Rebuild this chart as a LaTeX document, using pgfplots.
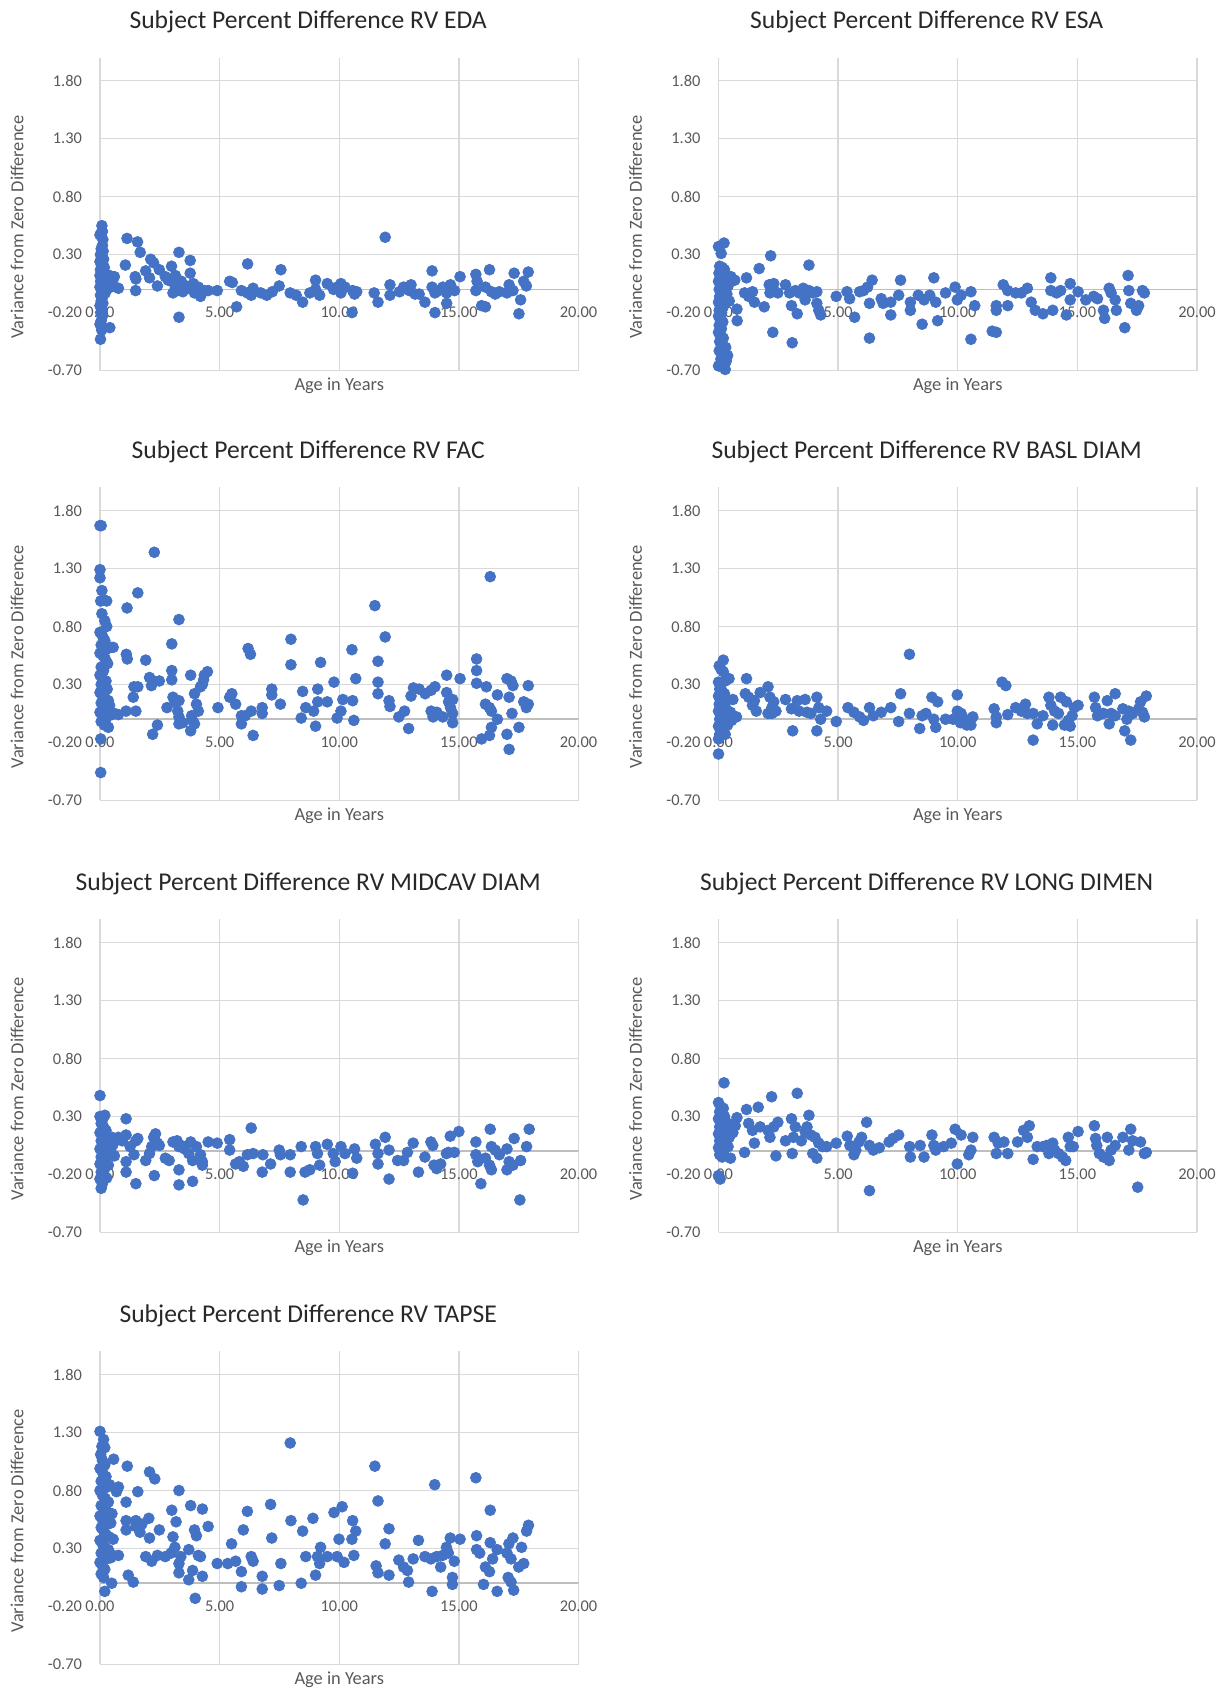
\documentclass[border=0pt]{standalone}
\usepackage{fontspec}
\setmainfont{Carlito}
\usepackage{pgfplots}
\pgfplotsset{compat=1.18}

\definecolor{dotblue}{RGB}{68,114,196}
\definecolor{gridgray}{RGB}{217,217,217}
\definecolor{zerogray}{RGB}{190,190,190}
\definecolor{ticktext}{RGB}{89,89,89}
\definecolor{titletext}{RGB}{40,40,40}

\tikzset{zeroline/.style={draw=zerogray, line width=0.9pt}}

% one panel of the 7 scatter charts (same scales everywhere)
\pgfplotsset{
  rvpanel/.style={
    scale only axis, width=239.25pt, height=156.5pt,
    xmin=0, xmax=20, ymin=-0.7, ymax=2.0,
    xtick={0,5,10,15,20}, ytick={-0.7,0.3,0.8,1.3,1.8},
    extra y ticks={-0.2}, extra y tick style={grid=none},
    axis line style={draw=none},
    major tick length=0pt,
    grid=major, major grid style={draw=gridgray, line width=0.7pt},
    /pgf/number format/fixed, /pgf/number format/fixed zerofill,
    /pgf/number format/precision=2, /pgf/number format/assume math mode=true,
    tick label style={font=\fontsize{8.2}{9.6}\selectfont, text=ticktext},
    yticklabel style={anchor=east, xshift=-5.5pt},
    xticklabel style={anchor=center, yshift=29pt},
    title style={at={(axis description cs:0.435,1.076)}, anchor=center, yshift=0pt,
      font=\fontsize{12.8}{14}\selectfont, text=titletext, inner sep=1pt},
    xlabel={Age in Years},
    xlabel style={at={(axis description cs:0.5,-0.048)}, anchor=center,
      font=\fontsize{9.2}{11}\selectfont, text=ticktext, inner sep=1pt},
    ylabel={Variance from Zero Difference},
    ylabel style={at={(axis description cs:-0.1735,0.459)}, anchor=center,
      font=\fontsize{9.2}{11}\selectfont, text=ticktext, inner sep=1pt},
    every axis plot post/.append style={only marks, mark=*, mark size=2.7pt,
      color=dotblue, mark options={draw=dotblue, fill=dotblue}},
  },
}

\begin{document}
\begin{tikzpicture}

% ---------------- RV EDA
\begin{axis}[rvpanel, at={(50pt,659.2pt)}, anchor=south west,
  title={Subject Percent Difference RV EDA}]
\draw[zeroline] (axis cs:0,0) -- (axis cs:20,0);
\addplot coordinates {
(0.00,0.47) (0.03,0.48) (0.08,0.55) (0.10,0.50) (0.12,0.43) (0.10,0.38) (0.05,0.35)
(0.13,0.33) (0.02,0.30) (0.08,0.28) (0.15,0.26) (0.00,0.24) (0.05,0.22) (0.12,0.20)
(0.18,0.19) (0.02,0.17) (0.09,0.15) (0.20,0.14) (0.00,0.12) (0.06,0.11) (0.14,0.10)
(0.25,0.09) (0.30,0.12) (0.03,0.07) (0.10,0.05) (0.18,0.04) (0.00,0.02) (0.07,0.00)
(0.15,-0.01) (0.22,-0.03) (0.02,-0.05) (0.10,-0.07) (0.05,-0.10) (0.12,-0.12)
(0.00,-0.14) (0.08,-0.17) (0.03,-0.20) (0.10,-0.23) (0.05,-0.27) (0.00,-0.30)
(0.07,-0.35) (0.02,-0.43) (0.41,-0.33) (0.40,0.12) (0.50,0.08) (0.60,0.11) (0.35,0.05)
(0.45,0.02) (0.55,0.04)
(1.13,0.44) (1.57,0.41) (1.68,0.32) (1.06,0.21) (1.47,0.11) (1.50,0.09) (1.49,-0.01)
(0.77,0.01) (1.91,0.16) (2.12,0.26) (2.24,0.23) (2.07,0.10) (2.40,0.03) (2.48,0.17)
(2.73,0.11) (2.99,0.20) (3.30,0.32) (3.77,0.25) (3.77,0.14) (3.30,-0.24)
(3.05,-0.03) (3.22,-0.01) (3.46,-0.02) (3.71,0.01) (3.95,-0.03) (4.11,0.02) (4.20,-0.06)
(4.36,-0.01) (4.52,-0.01) (4.90,-0.01) (3.10,0.05) (3.40,0.07) (3.60,0.03) (3.90,0.05)
(4.00,0.00) (2.85,0.08) (3.15,0.12)
(5.71,-0.15) (5.42,0.07) (5.53,0.06) (5.91,-0.01) (6.16,-0.03) (6.40,0.01) (6.32,-0.05)
(6.17,0.22) (6.72,-0.03) (6.97,-0.05) (7.20,-0.02) (7.49,0.03) (7.56,0.17) (7.95,-0.03)
(8.20,-0.05) (8.47,-0.11) (8.77,-0.03) (9.01,0.00) (9.01,0.08) (9.18,-0.05) (9.50,0.05)
(9.76,0.00) (9.91,0.02) (10.07,0.05) (10.07,-0.03) (10.24,0.02) (10.56,-0.01)
(10.64,-0.04) (10.73,-0.02) (10.53,-0.20) (11.46,-0.03) (11.62,-0.11) (11.92,0.45)
(12.12,0.04) (12.12,-0.05) (12.52,-0.02) (12.69,0.02) (12.93,-0.01) (13.00,0.04)
(13.17,-0.04) (13.34,-0.04) (13.58,-0.11) (13.88,0.16) (13.88,0.02) (14.00,-0.03)
(14.00,-0.20) (14.16,-0.01) (14.33,0.02) (14.49,-0.03) (14.65,0.04) (14.49,-0.12)
(14.82,-0.01) (15.05,0.11) (15.71,0.13) (15.76,0.07) (15.71,-0.01) (15.95,-0.14)
(16.11,-0.15) (16.28,0.17) (16.11,0.02) (16.36,-0.02) (16.52,-0.04) (16.69,-0.02)
(17.01,-0.03) (17.10,0.04) (17.26,-0.01) (17.31,0.14) (17.58,-0.09) (17.51,-0.21)
(17.71,0.07) (17.82,0.03) (17.90,0.15)
};
\end{axis}

% ---------------- RV ESA
\begin{axis}[rvpanel, at={(359.25pt,659.2pt)}, anchor=south west,
  title={Subject Percent Difference RV ESA}]
\draw[zeroline] (axis cs:0,0) -- (axis cs:20,0);
\addplot coordinates {
(0.00,0.37) (0.23,0.40) (0.11,0.31) (0.05,0.20) (0.15,0.19) (0.25,0.17) (0.02,0.14)
(0.10,0.12) (0.20,0.10) (0.30,0.08) (0.00,0.07) (0.08,0.05) (0.18,0.03) (0.28,0.02)
(0.03,0.00) (0.12,-0.02) (0.22,-0.03) (0.35,-0.04) (0.05,-0.06) (0.15,-0.08) (0.25,-0.09)
(0.00,-0.11) (0.10,-0.13) (0.20,-0.15) (0.03,-0.18) (0.13,-0.20) (0.00,-0.23) (0.08,-0.26)
(0.18,-0.28) (0.03,-0.31) (0.12,-0.34) (0.00,-0.37) (0.08,-0.40) (0.20,-0.42) (0.05,-0.45)
(0.15,-0.48) (0.30,-0.50) (0.03,-0.53) (0.22,-0.56) (0.38,-0.57) (0.10,-0.60) (0.32,-0.62)
(0.00,-0.66) (0.18,-0.67) (0.28,-0.69) (0.40,0.03) (0.48,0.10) (0.45,-0.10)
(0.52,0.11) (0.68,0.08) (0.77,-0.17) (0.78,-0.27) (1.17,0.10) (1.09,-0.03) (1.26,-0.06)
(1.42,-0.02) (1.50,-0.11) (1.70,0.18) (1.91,-0.15) (2.18,0.29) (2.12,0.04) (2.31,0.05)
(2.15,-0.03) (2.48,-0.03) (2.27,-0.37) (2.80,0.04) (2.97,-0.03) (3.05,-0.14) (3.21,-0.01)
(3.29,-0.21) (3.37,-0.03) (3.54,0.01) (3.62,-0.09) (3.78,-0.01) (3.94,-0.03) (4.11,-0.02)
(3.08,-0.46) (3.78,0.21) (4.11,-0.12) (4.19,-0.18) (4.27,-0.22) (4.92,-0.06) (5.37,-0.02)
(5.48,-0.08) (5.69,-0.24) (5.90,-0.02) (6.06,-0.01) (6.23,0.02) (6.42,0.08) (6.31,-0.12)
(6.31,-0.42) (6.80,-0.08) (6.88,-0.12) (7.20,-0.11) (7.20,-0.22) (7.53,-0.05) (7.61,0.08)
(8.02,-0.11) (8.02,-0.18) (8.35,-0.05) (8.51,-0.30) (8.59,-0.09) (8.83,-0.05) (9.00,0.10)
(9.08,-0.11) (9.16,-0.27) (9.49,-0.03) (9.89,0.02) (9.98,-0.09) (10.14,-0.05)
(10.55,-0.02) (10.55,-0.43) (10.71,-0.14) (11.44,-0.36) (11.61,-0.37) (11.61,-0.14)
(11.61,-0.18) (12.09,-0.14) (11.90,0.04) (12.09,-0.01) (12.42,-0.03) (12.66,-0.03)
(12.91,0.01) (13.07,-0.11) (13.24,-0.18) (13.56,-0.21) (13.89,0.10) (13.89,-0.01)
(13.97,-0.18) (14.13,-0.03) (14.30,-0.01) (14.54,-0.22) (14.70,0.05) (14.70,-0.09)
(15.03,-0.02) (15.35,-0.09) (15.68,-0.06) (15.84,-0.08) (16.09,-0.18) (16.14,-0.25)
(16.33,0.01) (16.41,-0.03) (16.58,-0.09) (16.63,-0.18) (16.98,-0.33) (17.12,0.12)
(17.15,-0.01) (17.23,-0.12) (17.47,-0.18) (17.56,-0.14) (17.72,-0.01) (17.80,-0.03)
};
\end{axis}

% ---------------- RV FAC
\begin{axis}[rvpanel, at={(50pt,444.3pt)}, anchor=south west,
  title={Subject Percent Difference RV FAC}]
\draw[zeroline] (axis cs:0,0) -- (axis cs:20,0);
\addplot coordinates {
(0.00,1.67) (0.05,1.67) (0.00,1.29) (0.00,1.22) (0.08,1.11) (0.15,1.03) (0.03,1.02)
(0.28,1.02) (0.08,0.91) (0.20,0.85) (0.28,0.80) (0.00,0.75) (0.10,0.72) (0.20,0.68)
(0.05,0.64) (0.15,0.62) (0.25,0.60) (0.35,0.62) (0.45,0.62) (0.55,0.62) (0.00,0.57)
(0.12,0.55) (0.22,0.52) (0.32,0.48) (0.05,0.45) (0.15,0.42) (0.00,0.38) (0.10,0.35)
(0.25,0.33) (0.05,0.30) (0.18,0.28) (0.30,0.26) (0.00,0.23) (0.10,0.20) (0.22,0.18)
(0.35,0.16) (0.05,0.14) (0.15,0.10) (0.28,0.08) (0.00,0.06) (0.12,0.03) (0.25,0.00)
(0.05,-0.02) (0.18,-0.05) (0.35,-0.07) (0.40,0.12) (0.50,0.04) (0.60,0.05) (0.03,-0.17)
(0.03,-0.46)
(1.13,0.96) (1.58,1.09) (2.27,1.44) (1.10,0.56) (1.14,0.52) (1.91,0.51) (1.42,0.28)
(1.58,0.28) (1.39,0.19) (1.09,0.07) (1.50,0.07) (0.77,0.04) (2.07,0.36) (2.15,0.29)
(2.24,0.33) (2.48,0.33) (2.20,-0.13) (2.40,-0.05) (3.00,0.65) (3.30,0.86) (3.00,0.42)
(3.00,0.34) (3.05,0.19) (3.13,0.15) (3.30,0.16) (3.25,0.07) (3.30,0.02) (3.30,-0.04)
(3.46,-0.03) (2.80,0.10) (3.79,0.38) (3.83,0.03) (3.87,-0.01) (3.79,-0.10) (3.95,-0.04)
(3.95,0.22) (4.03,0.13) (4.11,0.07) (4.20,0.28) (4.28,0.30) (4.33,0.34) (4.36,0.38)
(4.49,0.41) (4.93,0.10) (5.42,0.19) (5.51,0.22) (5.67,0.13) (5.91,0.03) (5.91,-0.04)
(6.07,0.03) (6.19,0.61) (6.29,0.56) (6.40,-0.14) (6.32,0.07) (6.78,0.10) (6.78,0.05)
(7.18,0.26) (7.18,0.21) (7.54,0.13) (7.98,0.69) (7.98,0.47) (8.41,0.01) (8.47,0.24)
(8.60,0.10) (8.93,0.07) (9.01,-0.06) (9.10,0.26) (9.10,0.15) (9.22,0.49) (9.50,0.15)
(9.78,0.32) (9.91,0.01) (10.07,0.07) (10.15,0.17) (10.53,0.60) (10.56,0.16) (10.61,-0.01)
(10.69,0.35) (11.49,0.98) (11.62,0.50) (11.62,0.32) (11.62,0.22) (11.92,0.71) (12.08,0.16)
(12.12,0.11) (12.49,0.02) (12.73,0.07) (12.90,-0.08) (13.00,0.20) (13.10,0.27)
(13.34,0.26) (13.59,0.22) (13.84,0.25) (14.00,0.28) (13.84,0.07) (13.92,0.02) (14.08,0.06)
(14.33,0.02) (14.49,0.38) (14.49,0.23) (14.57,0.15) (14.65,0.10) (14.74,0.17) (14.74,0.05)
(14.74,-0.03) (15.05,0.35) (15.74,0.52) (15.74,0.42) (15.74,0.31) (15.95,-0.17)
(16.15,0.28) (16.11,0.13) (16.28,0.10) (16.36,0.07) (16.31,1.23) (16.28,-0.14)
(16.36,-0.07) (16.61,0.00) (16.61,0.21) (17.01,0.35) (17.18,0.33) (17.26,0.29)
(17.01,-0.13) (17.10,-0.26) (17.10,0.19) (17.22,0.05) (17.51,-0.07) (17.71,0.15)
(17.82,0.10) (17.90,0.13) (17.90,0.29)
};
\end{axis}

% ---------------- RV BASL DIAM
\begin{axis}[rvpanel, at={(359.25pt,444.3pt)}, anchor=south west,
  title={Subject Percent Difference RV BASL DIAM}]
\draw[zeroline] (axis cs:0,0) -- (axis cs:20,0);
\addplot coordinates {
(0.20,0.51) (0.03,0.46) (0.11,0.43) (0.20,0.41) (0.28,0.33) (0.44,0.35) (0.00,0.32)
(0.10,0.30) (0.05,0.26) (0.15,0.24) (0.25,0.22) (0.00,0.20) (0.08,0.18) (0.18,0.16)
(0.30,0.15) (0.03,0.13) (0.12,0.11) (0.22,0.10) (0.35,0.08) (0.00,0.07) (0.10,0.05)
(0.20,0.03) (0.30,0.02) (0.05,0.00) (0.15,-0.02) (0.28,-0.03) (0.45,0.02) (0.50,0.06)
(0.38,-0.05) (0.00,-0.06) (0.10,-0.09) (0.05,-0.13) (0.28,-0.13) (0.00,-0.17) (0.00,-0.30)
(0.60,0.17) (0.55,-0.01) (0.75,0.02)
(1.17,0.35) (1.12,0.22) (1.26,0.19) (1.42,0.12) (1.50,0.16) (1.58,0.07) (1.74,0.23)
(2.07,0.28) (2.15,0.19) (2.23,0.10) (2.31,0.15) (2.40,0.07) (2.23,0.05) (2.07,0.05)
(2.80,0.17) (3.05,0.09) (3.10,-0.10) (3.29,0.16) (3.37,0.07) (3.62,0.17) (3.70,0.06)
(3.86,0.05) (4.11,0.19) (4.11,-0.10) (4.19,0.10) (4.27,0.00) (4.52,0.07) (4.92,-0.02)
(5.41,0.10) (5.66,0.06) (5.90,0.02) (6.06,-0.01) (6.31,0.10) (6.47,0.03) (6.80,0.06)
(7.20,0.10) (7.53,-0.02) (7.61,0.22) (7.98,0.56) (7.98,0.05) (8.41,-0.08) (8.51,0.03)
(8.67,0.05) (8.92,0.19) (9.00,0.00) (9.08,-0.07) (9.16,0.15) (9.49,0.00) (9.81,0.00)
(9.98,0.07) (9.98,0.21) (10.11,-0.03) (10.14,0.05) (10.30,0.00) (10.38,-0.05)
(10.55,-0.05) (10.63,0.02) (11.52,0.09) (11.61,0.02) (11.61,-0.03) (11.85,0.32)
(12.01,0.29) (12.09,0.04) (12.42,0.10) (12.66,0.07) (12.83,0.13) (12.91,0.05)
(13.15,0.05) (13.32,-0.04) (13.15,-0.18) (13.56,0.03) (13.81,0.19) (13.89,0.12)
(13.97,-0.05) (14.05,0.07) (14.21,0.05) (14.30,0.19) (14.46,-0.05) (14.54,0.15)
(14.62,-0.01) (14.70,-0.06) (14.78,0.03) (14.87,0.10) (15.03,0.12) (15.71,0.19)
(15.76,0.10) (15.84,0.03) (16.09,0.05) (16.25,0.16) (16.33,-0.04) (16.41,0.05)
(16.58,0.22) (16.58,0.03) (16.90,0.09) (16.98,-0.10) (17.07,0.00) (17.15,0.07)
(17.23,-0.18) (17.31,0.05) (17.56,0.09) (17.64,0.15) (17.72,0.06) (17.80,0.02) (17.88,0.20)
};
\end{axis}

% ---------------- RV MIDCAV DIAM
\begin{axis}[rvpanel, at={(50pt,228.3pt)}, anchor=south west,
  title={Subject Percent Difference RV MIDCAV DIAM}]
\draw[zeroline] (axis cs:0,0) -- (axis cs:20,0);
\addplot coordinates {
(0.00,0.48) (0.00,0.30) (0.20,0.31) (0.10,0.27) (0.05,0.24) (0.15,0.21) (0.25,0.18)
(0.00,0.16) (0.10,0.14) (0.20,0.12) (0.30,0.13) (0.40,0.10) (0.05,0.09) (0.15,0.07)
(0.25,0.05) (0.35,0.04) (0.00,0.02) (0.10,0.00) (0.20,-0.02) (0.30,-0.01) (0.45,0.02)
(0.05,-0.05) (0.15,-0.07) (0.25,-0.09) (0.00,-0.11) (0.10,-0.13) (0.20,-0.15) (0.35,-0.12)
(0.05,-0.18) (0.15,-0.21) (0.28,-0.23) (0.00,-0.24) (0.10,-0.28) (0.05,-0.32) (0.55,0.06)
(0.60,-0.04) (0.50,0.12)
(1.09,0.28) (0.77,0.12) (0.93,0.09) (1.09,0.14) (1.26,0.04) (1.50,0.09) (1.58,0.11)
(1.42,-0.03) (1.09,-0.09) (1.09,-0.18) (1.50,-0.28) (1.91,-0.08) (2.07,-0.02) (2.16,0.04)
(2.24,0.12) (2.32,0.15) (2.40,0.07) (2.48,0.05) (2.27,-0.21) (2.73,-0.06) (2.89,-0.08)
(3.05,0.08) (3.22,0.09) (3.30,0.04) (3.30,-0.16) (3.30,-0.29) (3.38,0.05) (3.54,0.02)
(3.71,-0.02) (3.79,0.08) (3.87,-0.08) (3.87,-0.26) (4.03,0.04) (4.20,-0.03) (4.28,-0.09)
(4.28,-0.12) (4.52,0.08) (4.90,0.07) (5.42,0.10) (5.42,0.01) (5.67,-0.11) (5.83,-0.09)
(5.99,-0.13) (6.16,-0.03) (6.32,0.20) (6.40,-0.02) (6.78,-0.18) (6.81,-0.03) (7.13,-0.11)
(7.49,0.01) (7.54,-0.03) (7.95,-0.03) (7.95,-0.18) (8.41,0.04) (8.49,-0.42) (8.57,-0.18)
(8.77,-0.16) (9.01,0.04) (9.09,-0.02) (9.18,-0.12) (9.50,0.06) (9.75,-0.02) (9.83,-0.09)
(10.07,0.04) (10.24,-0.02) (10.56,-0.19) (10.64,0.02) (10.73,-0.06) (11.51,0.06)
(11.62,-0.02) (11.62,-0.11) (11.92,0.12) (12.08,0.01) (12.08,-0.24) (12.44,-0.08)
(12.69,-0.08) (12.85,-0.01) (13.09,0.07) (13.31,-0.18) (13.58,-0.05) (13.83,0.08)
(13.91,0.05) (13.96,-0.12) (14.07,-0.15) (14.24,-0.11) (14.48,-0.02) (14.56,-0.01)
(14.64,0.13) (14.81,-0.01) (15.00,0.17) (15.71,0.08) (15.71,-0.03) (15.79,-0.09)
(15.92,-0.28) (16.11,-0.06) (16.28,-0.12) (16.31,0.19) (16.36,-0.16) (16.36,0.04)
(16.52,0.01) (16.69,-0.03) (17.01,0.02) (17.01,-0.16) (17.10,-0.09) (17.26,-0.12)
(17.31,0.11) (17.58,-0.08) (17.55,-0.42) (17.83,0.04) (17.94,0.19)
};
\end{axis}

% ---------------- RV LONG DIMEN
\begin{axis}[rvpanel, at={(359.25pt,228.3pt)}, anchor=south west,
  title={Subject Percent Difference RV LONG DIMEN}]
\draw[zeroline] (axis cs:0,0) -- (axis cs:20,0);
\addplot coordinates {
(0.23,0.59) (0.00,0.42) (0.11,0.38) (0.20,0.37) (0.05,0.34) (0.15,0.32) (0.25,0.30)
(0.00,0.28) (0.10,0.26) (0.20,0.25) (0.30,0.23) (0.40,0.24) (0.05,0.21) (0.15,0.19)
(0.25,0.18) (0.35,0.17) (0.50,0.20) (0.00,0.15) (0.10,0.13) (0.20,0.12) (0.30,0.11)
(0.45,0.12) (0.05,0.09) (0.15,0.07) (0.25,0.05) (0.40,0.04) (0.00,0.03) (0.10,0.01)
(0.20,-0.01) (0.05,-0.03) (0.15,-0.05) (0.50,-0.06) (0.00,-0.21) (0.07,-0.24) (0.60,0.16)
(0.70,0.22)
(0.77,0.29) (1.09,-0.01) (1.17,0.36) (1.26,0.24) (1.42,0.18) (1.50,0.07) (1.66,0.38)
(1.74,0.21) (2.22,0.47) (2.07,0.18) (2.15,0.12) (2.31,0.21) (2.40,-0.04) (2.48,0.25)
(2.80,0.09) (3.05,0.28) (3.08,-0.02) (3.13,0.12) (3.21,0.21) (3.29,0.50) (3.46,0.09)
(3.62,0.17) (3.70,0.21) (3.78,0.31) (3.86,0.14) (3.94,-0.02) (4.03,0.12) (4.11,-0.06)
(4.19,0.07) (4.35,0.04) (4.52,0.04) (4.92,0.07) (5.38,0.13) (5.49,0.05) (5.66,-0.03)
(5.74,0.01) (5.87,0.08) (5.98,0.12) (6.19,0.25) (6.31,-0.34) (6.31,0.05) (6.47,0.01)
(6.72,0.03) (7.13,0.08) (7.29,0.11) (7.53,0.14) (7.99,0.04) (8.02,-0.05) (8.43,0.05)
(8.59,-0.05) (8.92,0.14) (9.00,0.05) (9.08,0.01) (9.41,0.04) (9.73,0.07) (9.89,0.19)
(9.98,-0.11) (10.14,0.14) (10.46,-0.03) (10.55,0.01) (10.63,0.12) (11.52,0.12)
(11.61,-0.02) (11.69,0.07) (11.93,0.08) (12.09,-0.02) (12.50,0.08) (12.75,0.18)
(12.91,0.12) (12.99,0.22) (13.15,-0.07) (13.32,0.04) (13.56,0.04) (13.72,0.05)
(13.81,-0.02) (13.97,0.07) (14.05,0.01) (14.21,-0.02) (14.38,-0.05) (14.51,-0.08)
(14.62,0.12) (14.70,0.04) (14.83,0.04) (15.03,0.17) (15.71,0.22) (15.76,0.11)
(15.81,0.05) (15.92,-0.02) (16.09,-0.05) (16.25,0.12) (16.33,-0.08) (16.41,0.01)
(16.58,0.05) (16.90,0.12) (17.15,0.01) (17.23,0.19) (17.31,0.09) (17.52,-0.31)
(17.64,0.08) (17.80,-0.02) (17.88,-0.01)
};
\end{axis}

% ---------------- RV TAPSE
\begin{axis}[rvpanel, at={(50pt,12.3pt)}, anchor=south west,
  title={Subject Percent Difference RV TAPSE}]
\draw[zeroline] (axis cs:0,0) -- (axis cs:20,0);
\addplot coordinates {
(0.00,1.31) (0.15,1.24) (0.08,1.18) (0.20,1.17) (0.03,1.11) (0.10,1.06) (0.20,1.02)
(0.00,0.99) (0.12,0.95) (0.25,0.92) (0.05,0.88) (0.15,0.85) (0.30,0.83) (0.40,0.85)
(0.00,0.80) (0.10,0.76) (0.22,0.73) (0.35,0.70) (0.05,0.67) (0.15,0.64) (0.28,0.62)
(0.40,0.60) (0.00,0.58) (0.10,0.55) (0.20,0.53) (0.32,0.51) (0.45,0.52) (0.05,0.48)
(0.15,0.45) (0.25,0.42) (0.38,0.40) (0.00,0.37) (0.10,0.34) (0.22,0.31) (0.35,0.29)
(0.05,0.26) (0.15,0.23) (0.28,0.21) (0.45,0.22) (0.00,0.18) (0.10,0.15) (0.20,0.12)
(0.05,0.08) (0.15,0.05) (0.55,0.24) (0.50,0.60) (0.55,0.38) (0.20,-0.07) (0.49,0.00)
(0.57,1.07) (0.77,0.83) (0.69,0.79) (0.77,0.24) (1.14,1.01) (1.09,0.70) (1.09,0.54)
(1.09,0.46) (1.18,0.07) (1.39,0.01) (1.50,0.54) (1.50,0.49) (1.58,0.79) (1.67,0.44)
(1.75,0.51) (2.07,0.96) (2.29,0.90) (2.04,0.56) (2.07,0.39) (1.91,0.23) (2.16,0.19)
(2.40,0.24) (2.48,0.46) (2.73,0.23) (2.97,0.26) (3.00,0.63) (3.05,0.40) (3.18,0.53)
(3.13,0.31) (3.30,0.80) (3.30,0.17) (3.30,0.09) (3.38,0.23) (3.71,0.03) (3.71,0.29)
(3.79,0.67) (3.87,0.11) (3.95,0.46) (3.98,-0.13) (4.03,0.41) (4.11,0.24) (4.20,0.23)
(4.28,0.64) (4.28,0.06) (4.52,0.49) (4.90,0.17) (5.34,0.17) (5.50,0.34) (5.67,0.19)
(5.91,0.10) (5.91,-0.03) (5.99,0.46) (6.16,0.62) (6.32,0.23) (6.40,0.19) (6.78,0.06)
(6.78,-0.05) (7.13,0.68) (7.18,0.39) (7.49,-0.02) (7.56,0.17) (7.95,1.21) (7.98,0.54)
(8.47,0.45) (8.41,0.00) (8.60,0.23) (8.90,0.56) (9.01,0.07) (9.09,0.23) (9.18,0.17)
(9.22,0.31) (9.50,0.23) (9.78,0.61) (9.91,0.23) (9.99,0.38) (10.12,0.66) (10.20,0.18)
(10.53,0.38) (10.56,0.54) (10.61,0.24) (10.69,0.45) (11.49,1.01) (11.54,0.15) (11.62,0.71)
(11.62,0.09) (11.92,0.34) (12.08,0.47) (12.08,0.07) (12.49,0.20) (12.69,0.14) (12.85,0.11)
(12.90,0.01) (13.09,0.21) (13.31,0.37) (13.58,0.23) (13.83,0.21) (13.88,-0.07) (13.99,0.85)
(14.07,0.23) (14.24,0.14) (14.32,0.24) (14.48,0.31) (14.56,0.26) (14.64,0.39) (14.73,0.05)
(14.73,-0.01) (14.81,0.19) (15.05,0.38) (15.71,0.91) (15.74,0.41) (15.74,0.29) (15.87,0.26)
(16.03,-0.01) (16.11,0.14) (16.28,0.10) (16.31,0.63) (16.31,0.35) (16.41,0.21) (16.60,-0.07)
(16.60,0.29) (17.01,0.26) (17.06,0.05) (17.09,0.34) (17.18,0.01) (17.26,0.39) (17.29,-0.06)
(17.18,0.21) (17.50,0.14) (17.62,0.31) (17.71,0.17) (17.83,0.45) (17.91,0.50)
};
\end{axis}

\pgfresetboundingbox
\path[use as bounding box] (0,0) rectangle (613pt,844.5pt);
\end{tikzpicture}
\end{document}
